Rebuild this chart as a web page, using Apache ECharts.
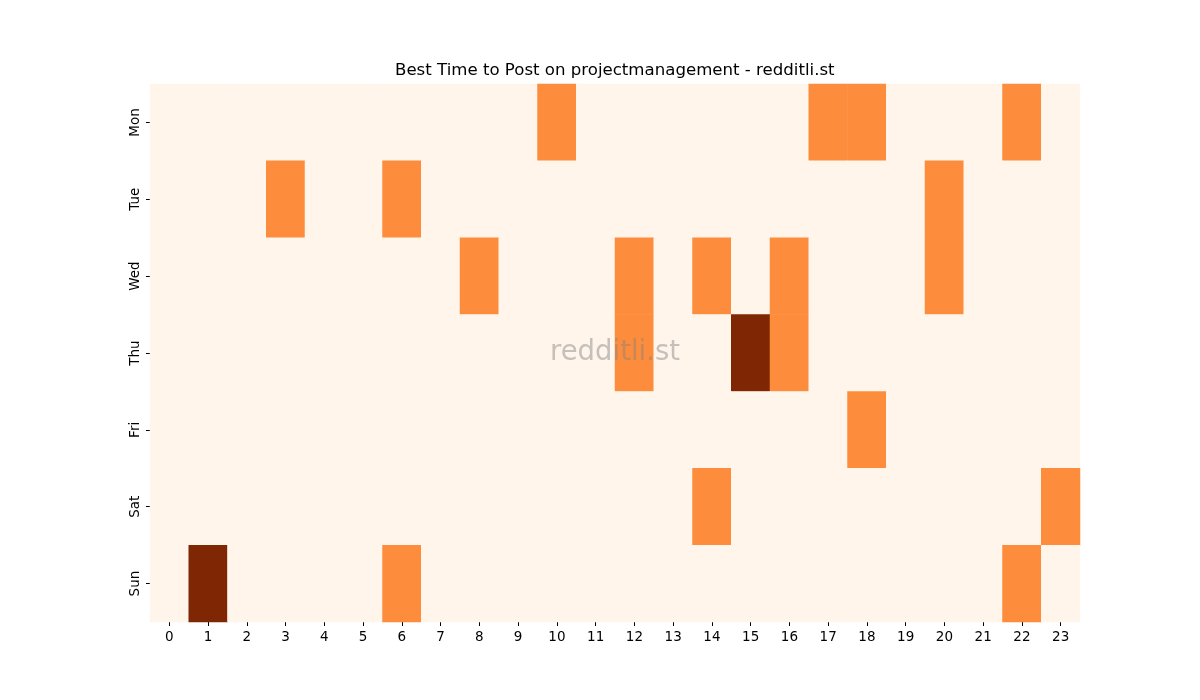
<!DOCTYPE html>
<html>
<head>
<meta charset="utf-8">
<script src="https://cdn.jsdelivr.net/npm/echarts@6/dist/echarts.min.js"></script>
<style>
  html, body { margin: 0; padding: 0; background: #fff; }
  #chart { width: 1200px; height: 700px; }
</style>
</head>
<body>
<div id="chart"></div>
<script>
// hours along the bottom, days down the side
const hours = Array.from({ length: 24 }, (_, i) => String(i));
const days = ['Mon', 'Tue', 'Wed', 'Thu', 'Fri', 'Sat', 'Sun'];

// cell values per day, one entry per hour (0 = none, 1 = good, 2 = best)
const mon = [0,0,0,0,0,0,0,0,0,0,1,0,0,0,0,0,0,1,1,0,0,0,1,0];
const tue = [0,0,0,1,0,0,1,0,0,0,0,0,0,0,0,0,0,0,0,0,1,0,0,0];
const wed = [0,0,0,0,0,0,0,0,1,0,0,0,1,0,1,0,1,0,0,0,1,0,0,0];
const thu = [0,0,0,0,0,0,0,0,0,0,0,0,1,0,0,2,1,0,0,0,0,0,0,0];
const fri = [0,0,0,0,0,0,0,0,0,0,0,0,0,0,0,0,0,0,1,0,0,0,0,0];
const sat = [0,0,0,0,0,0,0,0,0,0,0,0,0,0,1,0,0,0,0,0,0,0,0,1];
const sun = [0,2,0,0,0,0,1,0,0,0,0,0,0,0,0,0,0,0,0,0,0,0,1,0];

const rows = [mon, tue, wed, thu, fri, sat, sun];
const cells = [];
rows.forEach((row, d) => {
  row.forEach((v, h) => cells.push([h, d, v]));
});

const chart = echarts.init(document.getElementById('chart'));

const tickStyle = { show: true, alignWithLabel: true, length: 4, lineStyle: { color: '#000', width: 1 } };

chart.setOption({
  backgroundColor: '#fff',
  animation: false,
  title: {
    text: 'Best Time to Post on projectmanagement - redditli.st',
    left: 395,
    top: 62,
    padding: 0,
    textStyle: { fontFamily: 'DejaVu Sans', fontSize: 16.6, fontWeight: 'normal', color: '#000' }
  },
  grid: { left: 150, right: 120, top: 84, bottom: 78 },
  xAxis: {
    type: 'category',
    data: hours,
    axisLine: { show: false },
    axisTick: tickStyle,
    axisLabel: { fontFamily: 'DejaVu Sans', fontSize: 13.5, color: '#000', margin: 8 },
    splitLine: { show: false }
  },
  yAxis: {
    type: 'category',
    data: days,
    inverse: true,
    axisLine: { show: false },
    axisTick: tickStyle,
    axisLabel: { fontFamily: 'DejaVu Sans', fontSize: 13.5, color: '#000', rotate: 90, margin: 8 },
    splitLine: { show: false }
  },
  visualMap: {
    show: false,
    type: 'continuous',
    min: 0,
    max: 2,
    inRange: { color: ['#fff5eb', '#fd8d3c', '#7f2704'] }
  },
  series: [{
    type: 'heatmap',
    data: cells,
    itemStyle: { borderWidth: 0 },
    emphasis: { disabled: true }
  }],
  graphic: [{
    type: 'text',
    x: 615,
    y: 353,
    z: 100,
    style: {
      text: 'redditli.st',
      fontFamily: 'DejaVu Sans',
      fontSize: 27.5,
      fill: 'rgba(128,128,128,0.45)',
      textAlign: 'center',
      textVerticalAlign: 'middle'
    }
  }]
});
</script>
</body>
</html>
